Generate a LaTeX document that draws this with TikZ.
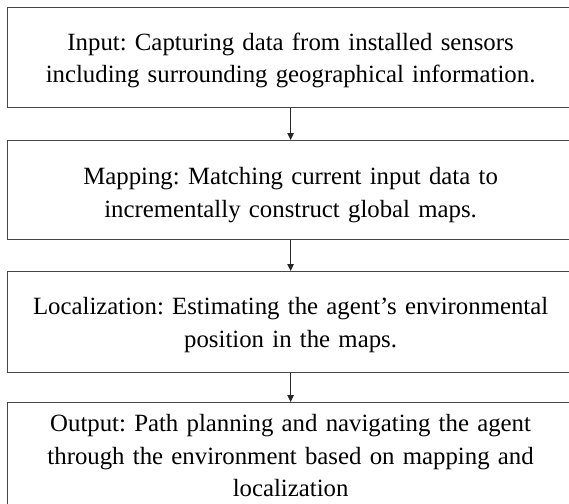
\documentclass[tikz,border=0pt]{standalone}
\usepackage{fontspec}
\setmainfont{Liberation Serif}
\usetikzlibrary{arrows.meta}

\begin{document}
\begin{tikzpicture}[x=1pt,y=-1pt,
  stage/.style={draw=black!72, line width=1.2pt, minimum width=566pt,
    inner sep=0pt, anchor=north west},
  caption/.style={text width=556pt, align=center, inner sep=0pt,
    font=\frenchspacing\fontsize{24.8}{32.5}\selectfont},
  link/.style={draw=black!85, line width=0.9pt,
    -{Triangle[length=7pt,width=6.5pt]}}]
\useasboundingbox (0,0) rectangle (569,503);
\clip (0,0) rectangle (569,503);
\fill[white] (0,0) rectangle (569,503);

% the four stages, top to bottom
\node[stage, minimum height=100pt] (input) at (7,7) {};
\node[stage, minimum height=99pt] (mapping) at (7,140) {};
\node[stage, minimum height=101pt] (local) at (7,271) {};
\node[stage, minimum height=106pt] (output) at (7,402) {};

% their texts
\node[caption] (inputtxt) at ([yshift=-3pt]input.center)
  {Input: Capturing data from installed sensors\\
   including surrounding geographical information.};
\node[caption] (mappingtxt) at ([yshift=-5pt]mapping.center)
  {Mapping: Matching current input data to\\
   incrementally construct global maps.};
\node[caption] (localtxt) at ([yshift=-3pt]local.center)
  {Localization: Estimating the agent’s environmental\\
   position in the maps.};
\node[caption] (outputtxt) at (output.center)
  {Output: Path planning and navigating the agent\\
   through the environment based on mapping and\\
   localization};

\draw[link] (input.south) -- (mapping.north);
\draw[link] (mapping.south) -- (local.north);
\draw[link] (local.south) -- (output.north);
\end{tikzpicture}
\end{document}
